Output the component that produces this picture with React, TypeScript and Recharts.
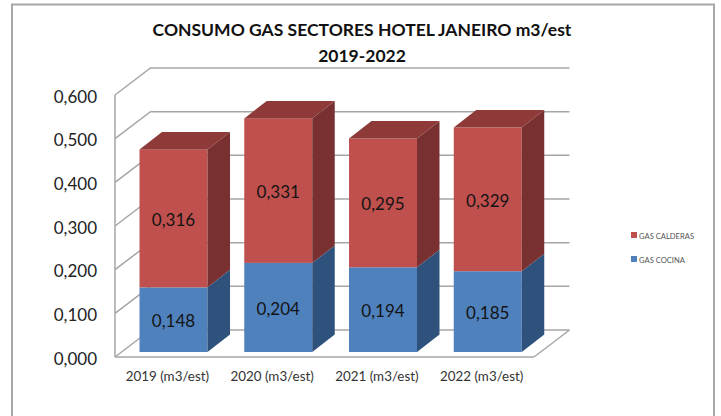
import React from "react";
import { BarChart, Bar, XAxis, YAxis, CartesianGrid, Legend, LabelList } from "recharts";

const categories = ["2019 (m3/est)", "2020 (m3/est)", "2021 (m3/est)", "2022 (m3/est)"];
const gasCocina = [0.148, 0.204, 0.194, 0.185];
const gasCalderas = [0.316, 0.331, 0.295, 0.329];
const yTicks = [0, 0.1, 0.2, 0.3, 0.4, 0.5, 0.6];

const data = categories.map((name, i) => ({
  name,
  cocina: gasCocina[i],
  calderas: gasCalderas[i],
}));

const FONT = "Lato, 'Open Sans', sans-serif";
const GRID = "#a6a6a6";

// fake 3D: wall depth and the offset of the bars inside the floor
const WALL_DX = 35.5;
const WALL_DY = 27;
const BAR_DX = 22.5;
const BAR_DY = 17.5;
const SHIFT_X = 6.5;
const SHIFT_Y = -5;

const fmt = (v: number) => v.toFixed(3).replace(".", ",");

const gridLine = (props: any) => {
  const { x1, x2, y1, key } = props;
  const isFloor = Math.abs(y1 - 357) < 1;
  return (
    <g key={key}>
      <path
        d={`M${x1},${y1} L${x1 + WALL_DX},${y1 - WALL_DY} L${x2 + WALL_DX},${y1 - WALL_DY}`}
        fill="none"
        stroke={GRID}
        strokeWidth={1.5}
      />
      {isFloor && (
        <path d={`M${x2},${y1} L${x2 + WALL_DX},${y1 - WALL_DY}`} fill="none" stroke={GRID} strokeWidth={1.5} />
      )}
    </g>
  );
};

const makeBar = (side: string, top?: string) => (props: any) => {
  const { fill, width, height } = props;
  const x = props.x + SHIFT_X;
  const y = props.y + SHIFT_Y;
  const r = x + width;
  const b = y + height;
  return (
    <g>
      <rect x={x} y={y} width={width} height={height} fill={fill} />
      <path
        d={`M${r},${y} L${r + BAR_DX},${y - BAR_DY} L${r + BAR_DX},${b - BAR_DY} L${r},${b} Z`}
        fill={side}
      />
      {top && (
        <path
          d={`M${x},${y} L${x + BAR_DX},${y - BAR_DY} L${r + BAR_DX},${y - BAR_DY} L${r},${y} Z`}
          fill={top}
        />
      )}
    </g>
  );
};

const barLabel = (props: any) => {
  const { x, y, width, height, value } = props;
  return (
    <text
      x={x + SHIFT_X + width / 2}
      y={y + SHIFT_Y + height / 2 + 1}
      textAnchor="middle"
      dominantBaseline="central"
      fontFamily={FONT}
      fontSize={17}
      fill="#141414"
    >
      {fmt(value)}
    </text>
  );
};

const App = () => {
  return (
    <div style={{ position: "absolute", left: 0, top: 0 }}>
      <BarChart
        width={721}
        height={416}
        data={data}
        barSize={68}
        margin={{ top: 95, right: 187, left: 0, bottom: 29 }}
      >
        <path d="M12,416 L12,4.5 L714,4.5 L714,416" fill="none" stroke="#a8a8a8" strokeWidth={2} />
        <text x={362} y={36} textAnchor="middle" fontFamily={FONT} fontWeight={700} fontSize={17.5} fill="#111">
          CONSUMO GAS SECTORES HOTEL JANEIRO m3/est
        </text>
        <text x={362} y={62} textAnchor="middle" fontFamily={FONT} fontWeight={700} fontSize={17.5} fill="#111">
          2019-2022
        </text>
        <CartesianGrid vertical={false} horizontal={gridLine} />
        <XAxis
          dataKey="name"
          interval={0}
          tickLine={false}
          axisLine={{ stroke: GRID, strokeWidth: 1.5 }}
          tick={{ fontFamily: FONT, fontSize: 13.4, fill: "#333", dx: 0 }}
          tickMargin={8}
        />
        <YAxis
          domain={[0, 0.6]}
          ticks={yTicks}
          width={115}
          tickFormatter={fmt}
          tickLine={false}
          axisLine={{ stroke: GRID, strokeWidth: 1.5 }}
          tick={{ fontFamily: FONT, fontSize: 17, fill: "#222", dy: 1.5 }}
          tickMargin={12}
        />
        <Legend
          layout="vertical"
          align="center"
          verticalAlign="middle"
          iconType="square"
          iconSize={6}
          formatter={(v: string) => (
            <span style={{ color: "#555", fontFamily: FONT, fontSize: 7.6, marginLeft: -2 }}>{v}</span>
          )}
          wrapperStyle={{ left: 631, top: 223, width: 80, lineHeight: "22px" }}
        />
        <Bar
          dataKey="cocina"
          name="GAS COCINA"
          stackId="a"
          fill="#4f81bd"
          shape={makeBar("#2f527c")}
          isAnimationActive={false}
        >
          <LabelList dataKey="cocina" content={barLabel} />
        </Bar>
        <Bar
          dataKey="calderas"
          name="GAS CALDERAS"
          stackId="a"
          fill="#c0504d"
          shape={makeBar("#783130", "#8e3a38")}
          isAnimationActive={false}
        >
          <LabelList dataKey="calderas" content={barLabel} />
        </Bar>
      </BarChart>
    </div>
  );
};

export default App;
